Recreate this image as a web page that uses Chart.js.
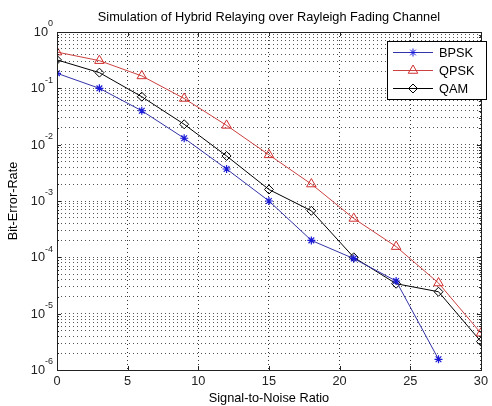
<!DOCTYPE html>
<html>
<head>
<meta charset="utf-8">
<script src="https://cdn.jsdelivr.net/npm/chart.js@4"></script>
<style>
  html, body { margin: 0; padding: 0; background: #fff; }
  #wrap { width: 492px; height: 406px; }
</style>
</head>
<body>
<div id="wrap"><canvas id="berChart"></canvas></div>
<script>
const snr    = [0, 3, 6, 9, 12, 15, 18, 21, 24, 27, 30]
const bpsk   = [0.185, 0.1, 0.04, 0.013, 0.0037, 0.001, 0.0002, 0.000095, 0.000038, 0.00000155]
const qpsk   = [0.44, 0.31, 0.166, 0.066, 0.022, 0.0066, 0.002, 0.00049, 0.000155, 0.000035, 0.0000045]
const qam    = [0.32, 0.19, 0.071, 0.023, 0.0063, 0.0016, 0.00067, 0.0001, 0.000034, 0.0000245, 0.0000032]
const xTicks = [0, 5, 10, 15, 20, 25, 30]
const yExps  = [-6, -5, -4, -3, -2, -1, 0]

const TITLE = 'Simulation of Hybrid Relaying over Rayleigh Fading Channel'
const FONT  = 'Arial, "Liberation Sans", sans-serif'
const FS    = 12.75

const toPoints = (vals) => vals.map((v, i) => ({ x: snr[i], y: v }))

// all 1..9 x 10^e positions, for the dotted minor grid
const yTickValues = []
yExps.forEach(e => {
  const steps = e === 0 ? [1] : [1, 2, 3, 4, 5, 6, 7, 8, 9]
  steps.forEach(m => yTickValues.push(+(m * Math.pow(10, e)).toPrecision(3)))
})

const isDecade = (v) => {
  const e = Math.round(Math.log10(v))
  return Math.abs(Math.pow(10, e) - v) / v < 1e-6
}

const frame = {
  id: 'frame',
  afterDraw(chart) {
    const { ctx, chartArea: a, scales } = chart
    ctx.save()
    ctx.strokeStyle = '#222'
    ctx.lineWidth = 1
    ctx.setLineDash([])
    ctx.beginPath()
    // inward tick marks, MATLAB style
    scales.x.ticks.forEach(t => {
      const px = Math.round(scales.x.getPixelForValue(t.value)) + 0.5
      ctx.moveTo(px, a.bottom); ctx.lineTo(px, a.bottom - 4)
      ctx.moveTo(px, a.top);    ctx.lineTo(px, a.top + 4)
    })
    scales.y.ticks.forEach(t => {
      const py = Math.round(scales.y.getPixelForValue(t.value)) + 0.5
      const len = isDecade(t.value) ? 4 : 2
      ctx.moveTo(a.left, py);  ctx.lineTo(a.left + len, py)
      ctx.moveTo(a.right, py); ctx.lineTo(a.right - len, py)
    })
    ctx.stroke()
    ctx.strokeRect(Math.round(a.left) + 0.5, Math.round(a.top) + 0.5,
                   Math.round(a.right - a.left), Math.round(a.bottom - a.top))

    // title centred over the axes
    ctx.fillStyle = '#000'
    ctx.font = FS + 'px ' + FONT
    ctx.textAlign = 'center'
    ctx.textBaseline = 'middle'
    ctx.fillText(TITLE, (a.left + a.right) / 2, 17)

    // y tick labels: 10 with a raised exponent
    ctx.fillStyle = '#222'
    ctx.textBaseline = 'middle'
    yExps.forEach(e => {
      const py = scales.y.getPixelForValue(Math.pow(10, e))
      const exp = String(e)
      ctx.font = '9px ' + FONT
      const ew = ctx.measureText(exp).width
      ctx.textAlign = 'left'
      ctx.fillText(exp, a.left - 4 - ew, py - 8)
      ctx.font = FS + 'px ' + FONT
      ctx.textAlign = 'right'
      ctx.fillText('10', a.left - 4 - ew, py + 0.5)
    })

    // legend box inside the axes, top right
    const box = { x: 387.5, y: 41.5, w: 99, h: 58 }
    ctx.fillStyle = '#fff'
    ctx.fillRect(box.x, box.y, box.w, box.h)
    ctx.strokeStyle = '#000'
    ctx.strokeRect(box.x, box.y, box.w, box.h)
    ctx.font = FS + 'px ' + FONT
    ctx.textAlign = 'left'
    ctx.textBaseline = 'middle'
    chart.data.datasets.forEach((ds, i) => {
      const y = 52 + i * 18
      ctx.strokeStyle = ds.borderColor
      ctx.lineWidth = 1
      ctx.beginPath()
      ctx.moveTo(393, y + 0.5); ctx.lineTo(433, y + 0.5)
      ctx.stroke()
      ctx.strokeStyle = ds.pointBorderColor
      ctx.fillStyle = ds.pointBackgroundColor
      Chart.helpers.drawPoint(ctx, {
        pointStyle: ds.pointStyle, radius: ds.pointRadius, rotation: 0, borderWidth: 1
      }, 413, y + 0.5)
      ctx.fillStyle = '#000'
      ctx.fillText(ds.label, 439, y + 1)
    })
    ctx.restore()
  }
}

new Chart(document.getElementById('berChart'), {
  type: 'line',
  data: {
    datasets: [
      {
        label: 'BPSK', data: toPoints(bpsk),
        borderColor: '#3434a8', pointBorderColor: '#1a1ad8', pointBackgroundColor: '#1a1ad8',
        pointStyle: 'star', pointRadius: 4, borderWidth: 1, pointBorderWidth: 1.2
      },
      {
        label: 'QPSK', data: toPoints(qpsk),
        borderColor: '#cc4040', pointBorderColor: '#d03030', pointBackgroundColor: 'rgba(0,0,0,0)',
        pointStyle: 'triangle', pointRadius: 5.5, borderWidth: 1, pointBorderWidth: 1
      },
      {
        label: 'QAM', data: toPoints(qam),
        borderColor: '#000', pointBorderColor: '#000', pointBackgroundColor: 'rgba(0,0,0,0)',
        pointStyle: 'rectRot', pointRadius: 4.5, borderWidth: 1, pointBorderWidth: 1
      }
    ]
  },
  options: {
    responsive: true,
    maintainAspectRatio: false,
    animation: false,
    layout: { padding: { left: 0, right: 4, top: 32, bottom: 0 } },
    plugins: {
      legend: { display: false },
      tooltip: { enabled: false },
      title: { display: false }
    },
    scales: {
      x: {
        type: 'linear', min: 0, max: 30,
        afterBuildTicks: (s) => { s.ticks = xTicks.map(v => ({ value: v })) },
        afterFit: (s) => { s.height = 36 },
        ticks: { color: '#222', padding: 4, font: { family: FONT, size: FS } },
        grid: { color: '#333', drawTicks: false, lineWidth: 1 },
        border: { display: false, dash: [1, 3] },
        title: {
          display: true, text: 'Signal-to-Noise Ratio', color: '#000',
          font: { family: FONT, size: FS }, padding: { top: 0, bottom: 0 }
        }
      },
      y: {
        type: 'logarithmic', min: 1e-6, max: 1,
        afterBuildTicks: (s) => { s.ticks = yTickValues.map(v => ({ value: v })) },
        afterFit: (s) => { s.width = 57 },
        ticks: { display: false, autoSkip: false },
        grid: { color: '#555', drawTicks: false, lineWidth: 1 },
        border: { display: false, dash: [1, 3] },
        title: {
          display: true, text: 'Bit-Error-Rate', color: '#000',
          font: { family: FONT, size: FS }, padding: { top: 6, bottom: 0 }
        }
      }
    }
  },
  plugins: [frame]
})
</script>
</body>
</html>
